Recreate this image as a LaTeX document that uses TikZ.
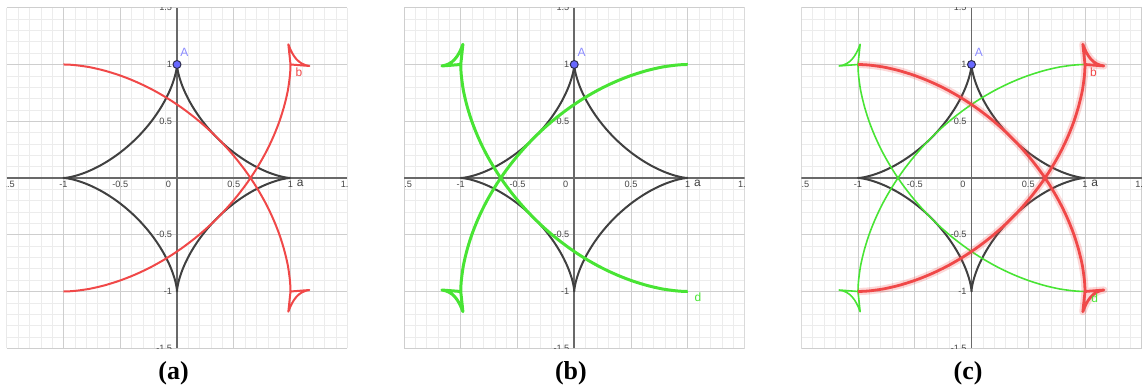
\documentclass[tikz,border=0pt]{standalone}
\usepackage{fontspec}
\setmainfont{Liberation Serif}
\setsansfont{Liberation Sans}
\definecolor{gridlight}{RGB}{236,236,236}
\definecolor{griddark}{RGB}{206,206,206}
\definecolor{axisgray}{RGB}{105,105,105}
\definecolor{astroidgray}{RGB}{64,64,64}
\definecolor{ticktext}{RGB}{70,70,70}
\definecolor{curvered}{RGB}{240,72,72}
\definecolor{curvegreen}{RGB}{72,228,52}
\definecolor{pointfill}{RGB}{104,104,255}
\definecolor{pointrim}{RGB}{45,45,80}
\definecolor{labelblue}{RGB}{140,140,255}

\begin{document}
\begin{tikzpicture}[x=2cm,y=2cm,line join=round,
  gminor/.style={draw=gridlight, line width=0.3pt},
  gmajor/.style={draw=griddark, line width=0.45pt},
  axisline/.style={draw=axisgray, line width=0.8pt},
  ticklbl/.style={font=\sffamily\fontsize{4.6}{5}\selectfont, text=ticktext, inner sep=0pt},
  curvelbl/.style={font=\sffamily\fontsize{6}{7}\selectfont, inner sep=0pt},
  astroidline/.style={draw=astroidgray, line width=1pt},
  redthin/.style={draw=curvered, line width=1pt},
  redthick/.style={draw=curvered, line width=1.4pt},
  redglow/.style={draw=curvered, line width=3.6pt, draw opacity=0.22},
  greenthick/.style={draw=curvegreen, line width=1.5pt},
  greenthin/.style={draw=curvegreen, line width=0.8pt},
  ptA/.style={circle, fill=pointfill, draw=pointrim, line width=0.5pt, inner sep=0pt, minimum size=4pt},
  caption/.style={font=\bfseries\fontsize{13}{15}\selectfont, inner sep=0pt}]
  \useasboundingbox (-1.5595,-1.8502) rectangle (8.511,1.5683);
  % common grid, axes and astroid of the three panels
  \foreach \p/\dx in {a/0, b/3.5, c/7}{
    \begin{scope}[shift={(\dx,0)}]
      \begin{scope}
        \clip (-1.5,-1.5) rectangle (1.5,1.5);
        \foreach \k in {-15,...,15}{
          \draw[gminor] (\k/10,-1.5) -- (\k/10,1.5);
          \draw[gminor] (-1.5,\k/10) -- (1.5,\k/10);
        }
        \foreach \k in {-3,...,3}{
          \draw[gmajor] (\k/2,-1.5) -- (\k/2,1.5);
          \draw[gmajor] (-1.5,\k/2) -- (1.5,\k/2);
        }
        \draw[axisline] (-1.5,0) -- (1.5,0);
        \draw[axisline] (0,-1.5) -- (0,1.5);
        \foreach \v [count=\i] in {-1.5,-1,-0.5,0.5,1,1.5}{
          \node[ticklbl, anchor=north] (xt\p\i) at (\v,-0.028) {\v};
          \node[ticklbl, anchor=east] (yt\p\i) at (-0.04,\v) {\v};
        }
        \node[ticklbl, anchor=north east] (o\p) at (-0.05,-0.028) {0};
      \end{scope}
      % astroid
      \draw[astroidline] plot[domain=0:360, samples=241]
        ({cos(\x)*cos(\x)*cos(\x)}, {sin(\x)*sin(\x)*sin(\x)});
      \node[curvelbl, text=astroidgray] (a\p) at (1.085,-0.05) {a};
      \node[ptA] (A\p) at (0,1) {};
      \node[curvelbl, text=labelblue] (lA\p) at (0.065,1.11) {A};
      \node[caption] (cap\p) at (-0.03,-1.72) {(\p)};
    \end{scope}
  }
  % Panel (a)
  \foreach \s in {1,-1}
    \draw[redthin, yscale=\s] (-1,1) -- plot[domain=0.2:89.8, samples=70]
      ({-1+2*pow(sin(\x),1.125)}, {-1+2*pow(cos(\x),1.125)})
      -- (1,-1) -- (0.981,-1.178) .. controls (1.02,-1.07) and (1.07,-1.0) .. (1.166,-0.987) -- (1,-1);
  \node[curvelbl, text=curvered] (b1) at (1.075,0.935) {b};
  % Panel (b)
  \begin{scope}[shift={(3.5,0)}]
    \foreach \s in {1,-1}
      \draw[greenthick, xscale=-1, yscale=\s] (-1,1) -- plot[domain=0.2:89.8, samples=70]
        ({-1+2*pow(sin(\x),1.125)}, {-1+2*pow(cos(\x),1.125)})
        -- (1,-1) -- (0.981,-1.178) .. controls (1.02,-1.07) and (1.07,-1.0) .. (1.166,-0.987) -- (1,-1);
    \node[curvelbl, text=curvegreen] (d1) at (1.09,-1.05) {d};
  \end{scope}
  % Panel (c)
  \begin{scope}[shift={(7,0)}]
    \foreach \s in {1,-1}
      \draw[greenthin, xscale=-1, yscale=\s] (-1,1) -- plot[domain=0.2:89.8, samples=70]
        ({-1+2*pow(sin(\x),1.125)}, {-1+2*pow(cos(\x),1.125)})
        -- (1,-1) -- (0.981,-1.178) .. controls (1.02,-1.07) and (1.07,-1.0) .. (1.166,-0.987) -- (1,-1);
    \foreach \s in {1,-1}{
      \draw[redglow, yscale=\s] (-1,1) -- plot[domain=0.2:89.8, samples=70]
        ({-1+2*pow(sin(\x),1.125)}, {-1+2*pow(cos(\x),1.125)})
        -- (1,-1) -- (0.981,-1.178) .. controls (1.02,-1.07) and (1.07,-1.0) .. (1.166,-0.987) -- (1,-1);
      \draw[redthick, yscale=\s] (-1,1) -- plot[domain=0.2:89.8, samples=70]
        ({-1+2*pow(sin(\x),1.125)}, {-1+2*pow(cos(\x),1.125)})
        -- (1,-1) -- (0.981,-1.178) .. controls (1.02,-1.07) and (1.07,-1.0) .. (1.166,-0.987) -- (1,-1);
    }
    \node[curvelbl, text=curvered] (b2) at (1.075,0.935) {b};
    \node[curvelbl, text=curvegreen] (d2) at (1.085,-1.06) {d};
  \end{scope}
\end{tikzpicture}
\end{document}
